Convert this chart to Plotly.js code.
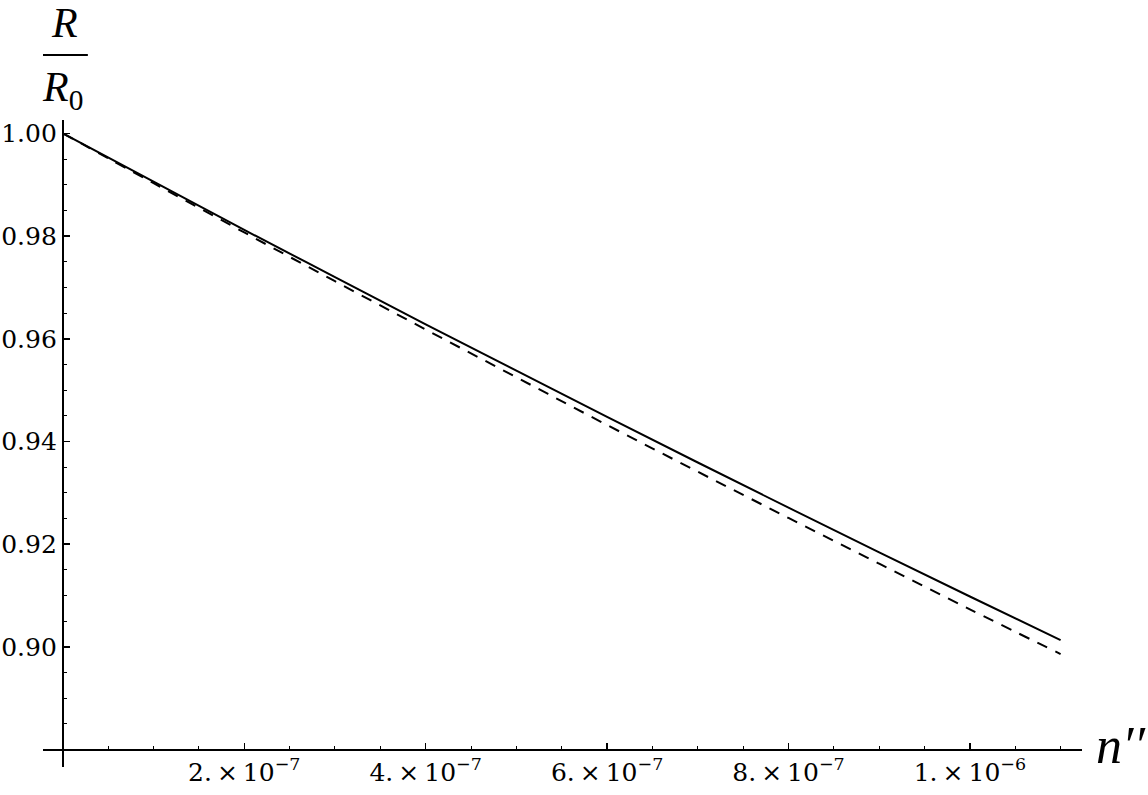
<!DOCTYPE html>
<html>
<head>
<meta charset="utf-8">
<script src="https://cdn.plot.ly/plotly-3.0.1.min.js"></script>
<style>
  html, body { margin: 0; padding: 0; background: #fff; }
  #chart { width: 1148px; height: 795px; }
</style>
</head>
<body>
<div id="chart"></div>
<script>
// n'' values (x axis)
var nValues = [0, 1e-7, 2e-7, 3e-7, 4e-7, 5e-7, 6e-7, 7e-7, 8e-7, 9e-7, 1e-6, 1.1e-6];

// R / R0, solid curve
var ratioSolid = [1.0000, 0.9906, 0.9812, 0.9720, 0.9628, 0.9538, 0.9448, 0.9359, 0.9271, 0.9184, 0.9098, 0.9013];

// R / R0, dashed curve
var ratioDashed = [1.0000, 0.9903, 0.9807, 0.9712, 0.9618, 0.9525, 0.9432, 0.9341, 0.9251, 0.9162, 0.9073, 0.8986];

var xTickVals = [2e-7, 4e-7, 6e-7, 8e-7, 1e-6];
var xTickText = ['2.\u2009\u00d7\u200910<sup>\u22127</sup>', '4.\u2009\u00d7\u200910<sup>\u22127</sup>',
                 '6.\u2009\u00d7\u200910<sup>\u22127</sup>', '8.\u2009\u00d7\u200910<sup>\u22127</sup>',
                 '1.\u2009\u00d7\u200910<sup>\u22126</sup>'];
var yTickVals = [0.90, 0.92, 0.94, 0.96, 0.98, 1.00];
var yTickText = ['0.90', '0.92', '0.94', '0.96', '0.98', '1.00'];

var xRange = [-2.19e-8, 1.1236e-6];
var yRange = [0.8766, 1.0026];
var xOrigin = 0;
var yOrigin = 0.88;

var serif = 'DejaVu Serif, Liberation Serif, serif';
var italic = 'Liberation Serif, Times New Roman, serif';

var traces = [
  {
    x: nValues,
    y: ratioSolid,
    mode: 'lines',
    line: {color: '#000', width: 2, shape: 'spline'},
    hoverinfo: 'skip'
  },
  {
    x: nValues,
    y: ratioDashed,
    mode: 'lines',
    line: {color: '#000', width: 2, dash: '11px,9px', shape: 'spline'},
    hoverinfo: 'skip'
  }
];

var layout = {
  width: 1148,
  height: 795,
  margin: {l: 43, r: 66, t: 120, b: 28},
  paper_bgcolor: '#fff',
  plot_bgcolor: '#fff',
  showlegend: false,
  font: {family: serif, size: 24, color: '#000'},
  xaxis: {
    range: xRange,
    anchor: 'free',
    position: (yOrigin - yRange[0]) / (yRange[1] - yRange[0]),
    showline: true,
    linecolor: '#000',
    linewidth: 2,
    showgrid: false,
    zeroline: false,
    tickmode: 'array',
    tickvals: xTickVals,
    ticktext: xTickText,
    ticks: 'inside',
    ticklen: 6,
    tickwidth: 1.5,
    tickcolor: '#000',
    minor: {tickmode: 'linear', tick0: 0, dtick: 5e-8, ticks: 'inside', ticklen: 3, tickwidth: 1, tickcolor: '#000', showgrid: false},
    tickfont: {family: serif, size: 25}
  },
  yaxis: {
    range: yRange,
    anchor: 'free',
    position: (xOrigin - xRange[0]) / (xRange[1] - xRange[0]),
    showline: true,
    linecolor: '#000',
    linewidth: 2,
    showgrid: false,
    zeroline: false,
    tickmode: 'array',
    tickvals: yTickVals,
    ticktext: yTickText,
    ticks: 'inside',
    ticklen: 6,
    tickwidth: 1.5,
    tickcolor: '#000',
    minor: {tickmode: 'linear', tick0: 0.88, dtick: 0.005, ticks: 'inside', ticklen: 3, tickwidth: 1, tickcolor: '#000', showgrid: false},
    tickfont: {family: serif, size: 25}
  },
  shapes: [
    // fraction bar of the y title
    {
      type: 'line',
      xref: 'x', xsizemode: 'pixel', xanchor: 0, x0: -23, x1: 25,
      yref: 'paper', ysizemode: 'pixel', yanchor: 1, y0: 65, y1: 65,
      line: {color: '#000', width: 2}
    }
  ],
  annotations: [
    {
      text: '<i>R</i>',
      xref: 'x', x: 0, xanchor: 'center', xshift: 2,
      yref: 'paper', y: 1, yanchor: 'middle', yshift: 97,
      showarrow: false,
      font: {family: italic, size: 42}
    },
    {
      text: '<i>R</i><sub>0</sub>',
      xref: 'x', x: 0, xanchor: 'center', xshift: 0,
      yref: 'paper', y: 1, yanchor: 'middle', yshift: 30,
      showarrow: false,
      font: {family: italic, size: 42}
    },
    {
      text: '<i>n\u2032\u2032</i>',
      xref: 'paper', x: 1, xanchor: 'left', xshift: 12,
      yref: 'y', y: yOrigin, yanchor: 'middle', yshift: 4,
      showarrow: false,
      font: {family: italic, size: 52}
    }
  ]
};

Plotly.newPlot('chart', traces, layout, {staticPlot: true, displayModeBar: false});
</script>
</body>
</html>
